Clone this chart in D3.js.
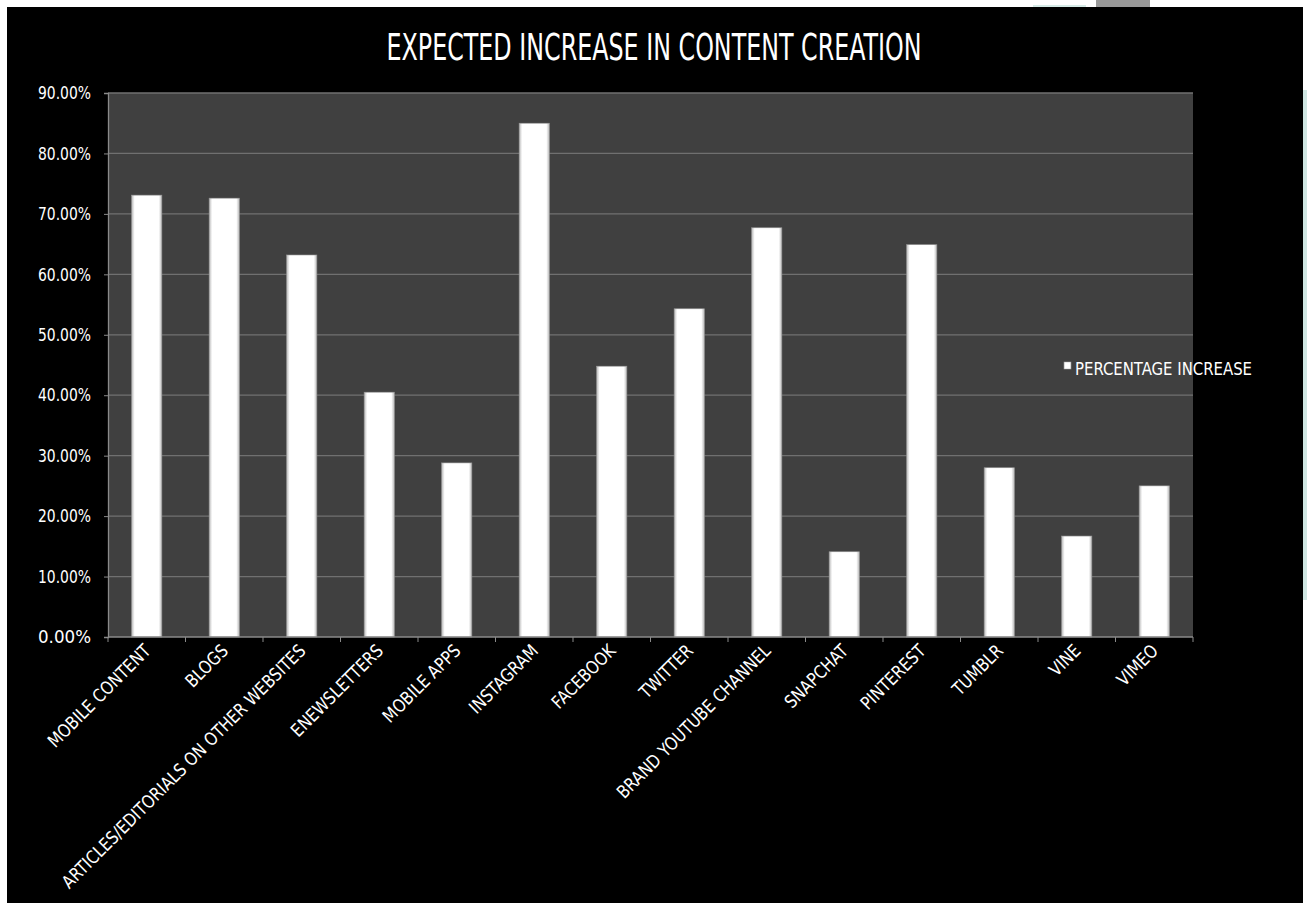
<!DOCTYPE html>
<html>
<head>
<meta charset="utf-8">
<script src="https://cdn.jsdelivr.net/npm/d3@7"></script>
<style>
  html, body { margin: 0; padding: 0; background: #fff; }
  svg { display: block; }
  text { font-family: "Liberation Sans Narrow", "DejaVu Sans Condensed", "Roboto", sans-serif; }
</style>
</head>
<body>
<script>
const width = 1307;
const height = 903;

const categories = ["MOBILE CONTENT", "BLOGS", "ARTICLES/EDITORIALS ON OTHER WEBSITES", "ENEWSLETTERS",
    "MOBILE APPS", "INSTAGRAM", "FACEBOOK", "TWITTER", "BRAND YOUTUBE CHANNEL", "SNAPCHAT",
    "PINTEREST", "TUMBLR", "VINE", "VIMEO"];
const values = [73.1, 72.6, 63.2, 40.5, 28.8, 85.0, 44.8, 54.3, 67.7, 14.1, 64.9, 28.0, 16.7, 25.0];
const yTicks = [0, 10, 20, 30, 40, 50, 60, 70, 80, 90];
const seriesName = "PERCENTAGE INCREASE";
const title = "EXPECTED INCREASE IN CONTENT CREATION";

const plot = {left: 108, right: 1193, top: 93, bottom: 637};

const svg = d3.select("body").append("svg")
    .attr("width", width)
    .attr("height", height);

// white border + black chart area
svg.append("rect").attr("width", width).attr("height", height).attr("fill", "#fff");
svg.append("rect").attr("x", 1096).attr("y", 0).attr("width", 54).attr("height", 8).attr("fill", "#999");
svg.append("rect").attr("x", 1033).attr("y", 5).attr("width", 53).attr("height", 3).attr("fill", "#d6ebe7");
svg.append("rect").attr("x", 1303).attr("y", 90).attr("width", 4).attr("height", 510).attr("fill", "#cfe6e2");
svg.append("rect").attr("x", 7).attr("y", 7).attr("width", 1296).attr("height", height - 7).attr("fill", "#000");

const defs = svg.append("defs");
const grad = defs.append("linearGradient").attr("id", "barGrad")
    .attr("x1", "0%").attr("x2", "100%").attr("y1", "0%").attr("y2", "0%");
grad.append("stop").attr("offset", "0%").attr("stop-color", "#b8b8b8");
grad.append("stop").attr("offset", "10%").attr("stop-color", "#fff");
grad.append("stop").attr("offset", "90%").attr("stop-color", "#fff");
grad.append("stop").attr("offset", "100%").attr("stop-color", "#b8b8b8");

const x = d3.scaleBand()
    .domain(categories)
    .range([plot.left, plot.right])
    .paddingInner(0.61)
    .paddingOuter(0.305);

const y = d3.scaleLinear()
    .domain([0, 90])
    .range([plot.bottom, plot.top]);

// plot background
svg.append("rect")
    .attr("x", plot.left).attr("y", plot.top)
    .attr("width", plot.right - plot.left).attr("height", plot.bottom - plot.top)
    .attr("fill", "#404040");

// gridlines
svg.append("g").selectAll("line")
    .data(yTicks.filter(d => d > 0))
    .join("line")
    .attr("x1", plot.left).attr("x2", plot.right)
    .attr("y1", d => y(d)).attr("y2", d => y(d))
    .attr("stroke", "#707070")
    .attr("stroke-width", 1.3);

// y axis
const yAxis = svg.append("g")
    .attr("transform", `translate(${plot.left},0)`)
    .call(d3.axisLeft(y).tickValues(yTicks).tickSize(4).tickFormat(d => d.toFixed(2) + "%"));
yAxis.select(".domain").attr("stroke", "#8a8a8a").attr("stroke-width", 1.3);
yAxis.selectAll(".tick line").attr("stroke", "#8a8a8a");
yAxis.selectAll(".tick text")
    .attr("fill", "#fff")
    .attr("x", -17)
    .attr("textLength", 53)
    .attr("lengthAdjust", "spacingAndGlyphs")
    .style("font-size", "18px")
    .style("font-family", "'Liberation Sans Narrow', 'DejaVu Sans Condensed', sans-serif");

// bars
svg.append("g").selectAll("rect")
    .data(values)
    .join("rect")
    .attr("x", (d, i) => x(categories[i]))
    .attr("y", d => y(d))
    .attr("width", x.bandwidth())
    .attr("height", d => y(0) - y(d))
    .attr("fill", "url(#barGrad)")
    .attr("stroke", "#9a9a9a")
    .attr("stroke-width", 0.6);

// x axis
const step = x.step();
const xAxis = svg.append("g")
    .attr("transform", `translate(0,${plot.bottom})`);
xAxis.append("line")
    .attr("x1", plot.left).attr("x2", plot.right)
    .attr("stroke", "#8a8a8a").attr("stroke-width", 1.3);
xAxis.selectAll(".xtick")
    .data(d3.range(categories.length + 1))
    .join("line")
    .attr("class", "xtick")
    .attr("x1", i => plot.left + i * step).attr("x2", i => plot.left + i * step)
    .attr("y1", 0).attr("y2", 5)
    .attr("stroke", "#8a8a8a");
xAxis.selectAll(".xlabel")
    .data(categories)
    .join("text")
    .attr("class", "xlabel")
    .attr("text-anchor", "end")
    .attr("transform", d => `translate(${x(d) + x.bandwidth() / 2 + 5},${15}) rotate(-45) scale(0.94,1)`)
    .attr("fill", "#fff")
    .style("font-size", "18px")
    .text(d => d);

// title
svg.append("text")
    .attr("x", 654).attr("y", 60)
    .attr("text-anchor", "middle")
    .attr("textLength", 535)
    .attr("lengthAdjust", "spacingAndGlyphs")
    .attr("fill", "#fff")
    .style("font-size", "37px")
    .text(title);

// legend
const legend = svg.append("g").attr("transform", "translate(1064,362)");
legend.append("rect").attr("width", 7).attr("height", 7)
    .attr("fill", "url(#barGrad)").attr("stroke", "#aaa").attr("stroke-width", 0.5);
legend.append("text")
    .attr("x", 11).attr("y", 13)
    .attr("textLength", 177)
    .attr("lengthAdjust", "spacingAndGlyphs")
    .attr("fill", "#fff")
    .style("font-size", "18px")
    .text(seriesName);
</script>
</body>
</html>
